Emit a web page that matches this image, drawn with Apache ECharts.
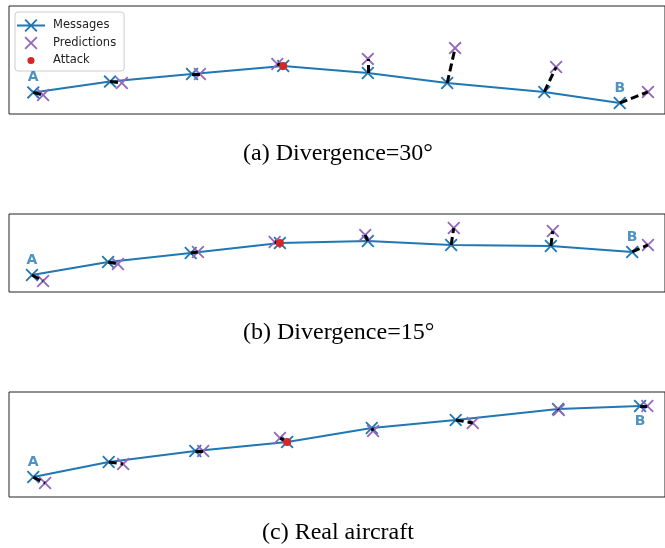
<!DOCTYPE html>
<html><head><meta charset="utf-8">
<script src="https://cdn.jsdelivr.net/npm/echarts@6/dist/echarts.min.js"></script>
<style>html,body{margin:0;padding:0;background:#fff}#c{width:665px;height:548px}</style>
</head><body><div id="c"></div>
<script>
// Data (arbitrary units: x 0..100, y 0..10 per panel)
const messagesA    = [[3.7,2.0],[15.4,3.0],[27.9,3.7],[41.8,4.45],[54.7,3.8],[66.8,2.87],[81.6,2.04],[93.1,1.02]];
const predictionsA = [[5.2,1.76],[17.2,2.87],[29.1,3.7],[40.9,4.63],[54.7,5.1],[68.0,6.1],[83.4,4.35],[97.4,2.04]];
const messagesB    = [[3.5,2.18],[15.1,3.85],[27.7,5.0],[41.3,6.28],[54.7,6.54],[67.4,6.03],[82.6,5.9],[95.0,5.13]];
const predictionsB = [[5.2,1.41],[16.6,3.59],[28.8,5.13],[40.5,6.41],[54.3,7.31],[67.8,8.21],[82.9,7.82],[97.4,6.03]];
const messagesC    = [[3.7,1.9],[15.2,3.33],[28.4,4.38],[42.4,5.24],[55.3,6.57],[68.1,7.33],[83.7,8.38],[96.2,8.67]];
const predictionsC = [[5.5,1.33],[17.4,3.14],[29.6,4.38],[41.3,5.62],[55.5,6.29],[70.7,7.05],[83.8,8.29],[97.3,8.67]];
const attackIndex = 3;
const captions = ['(a) Divergence=30°', '(b) Divergence=15°', '(c) Real aircraft'];
const endLabels = ['A', 'B'];

const BLUE = '#1f77b4', PURPLE = '#9467bd', RED = '#d62728';
const XPATH = 'path://M0,1L1,0L5,4L9,0L10,1L6,5L10,9L9,10L5,6L1,10L0,9L4,5Z';
const XPATH_LEG = 'path://M-1.5,-1.5M11.5,11.5M0,1L1,0L5,4L9,0L10,1L6,5L10,9L9,10L5,6L1,10L0,9L4,5Z';
const MSG_LEG = 'path://M0,0M28,17M0,7.5L28,7.5L28,9.5L0,9.5Z' +
  'M7.5,3.3L8.8,2L14,7.2L19.2,2L20.5,3.3L15.3,8.5L20.5,13.7L19.2,15L14,9.8L8.8,15L7.5,13.7L12.7,8.5Z';
const DOTPATH = 'path://M0,0M20,20M10,5.8A4.2,4.2,0,1,1,9.99,5.8Z';

const panels = [
  {msg: messagesA, pred: predictionsA, top: 6, height: 108, bPos: 'top'},
  {msg: messagesB, pred: predictionsB, top: 214, height: 78, bPos: 'top'},
  {msg: messagesC, pred: predictionsC, top: 392, height: 105, bPos: 'bottom'}
];

const grid = [], xAxis = [], yAxis = [], series = [];
panels.forEach((p, i) => {
  grid.push({left: 9, right: -2, top: p.top, height: p.height, show: true,
    borderColor: '#222', borderWidth: 1, backgroundColor: 'transparent'});
  xAxis.push({gridIndex: i, type: 'value', min: 0, max: 100, show: false});
  yAxis.push({gridIndex: i, type: 'value', min: 0, max: 10, show: false});
  series.push({name: 'Messages', type: 'line', xAxisIndex: i, yAxisIndex: i, data: p.msg,
    symbol: XPATH, symbolSize: 13, showAllSymbol: true,
    itemStyle: {color: BLUE}, lineStyle: {color: BLUE, width: 2}, z: 2, silent: true});
  series.push({name: 'Predictions', type: 'scatter', xAxisIndex: i, yAxisIndex: i, data: p.pred,
    symbol: XPATH, symbolSize: 13, itemStyle: {color: PURPLE, opacity: 1}, z: 3, silent: true});
  series.push({name: 'dev' + i, type: 'lines', coordinateSystem: 'cartesian2d', xAxisIndex: i, yAxisIndex: i,
    data: p.msg.map((m, k) => ({coords: [m, p.pred[k]]})),
    lineStyle: {color: '#000', width: 3, type: [8, 4], opacity: 1, cap: 'butt'}, z: 4, silent: true});
  series.push({name: 'Attack', type: 'scatter', xAxisIndex: i, yAxisIndex: i, data: [p.msg[attackIndex]],
    symbol: 'circle', symbolSize: 8, itemStyle: {color: RED, opacity: 1}, z: 5, silent: true});
  const lab = {show: true, color: BLUE, fontWeight: 'bold', fontSize: 14, fontFamily: 'DejaVu Sans', distance: 8};
  series.push({name: 'lbl' + i, type: 'scatter', xAxisIndex: i, yAxisIndex: i, symbolSize: 0, z: 6, silent: true,
    data: [
      {value: p.msg[0], label: Object.assign({}, lab, {position: 'top', formatter: endLabels[0]})},
      {value: p.msg[p.msg.length - 1], label: Object.assign({}, lab, {position: p.bPos, formatter: endLabels[1]})}
    ]});
});

const title = [
  {text: captions[0], left: 243, top: 141.5},
  {text: captions[1], left: 243, top: 320.5},
  {text: captions[2], left: 262, top: 520.5}
].map(t => Object.assign(t, {padding: 0, textStyle: {fontFamily: 'Liberation Serif', fontSize: 24, fontWeight: 'normal', color: '#000'}}));

const chart = echarts.init(document.getElementById('c'), null, {renderer: 'canvas'});
chart.setOption({
  animation: false,
  title: title,
  legend: {
    orient: 'vertical', left: 15, top: 12, padding: [5, 8, 2, 2],
    itemWidth: 28, itemHeight: 17, itemGap: 0.5,
    backgroundColor: 'rgba(255,255,255,0.8)', borderColor: '#ccc', borderWidth: 1, borderRadius: 3,
    textStyle: {fontFamily: 'DejaVu Sans', fontSize: 11.5, color: '#222', padding: [0, 0, 0, 3]},
    data: [
      {name: 'Messages', icon: MSG_LEG},
      {name: 'Predictions', icon: XPATH_LEG},
      {name: 'Attack', icon: DOTPATH}
    ]
  },
  grid: grid, xAxis: xAxis, yAxis: yAxis, series: series
});
</script></body></html>
